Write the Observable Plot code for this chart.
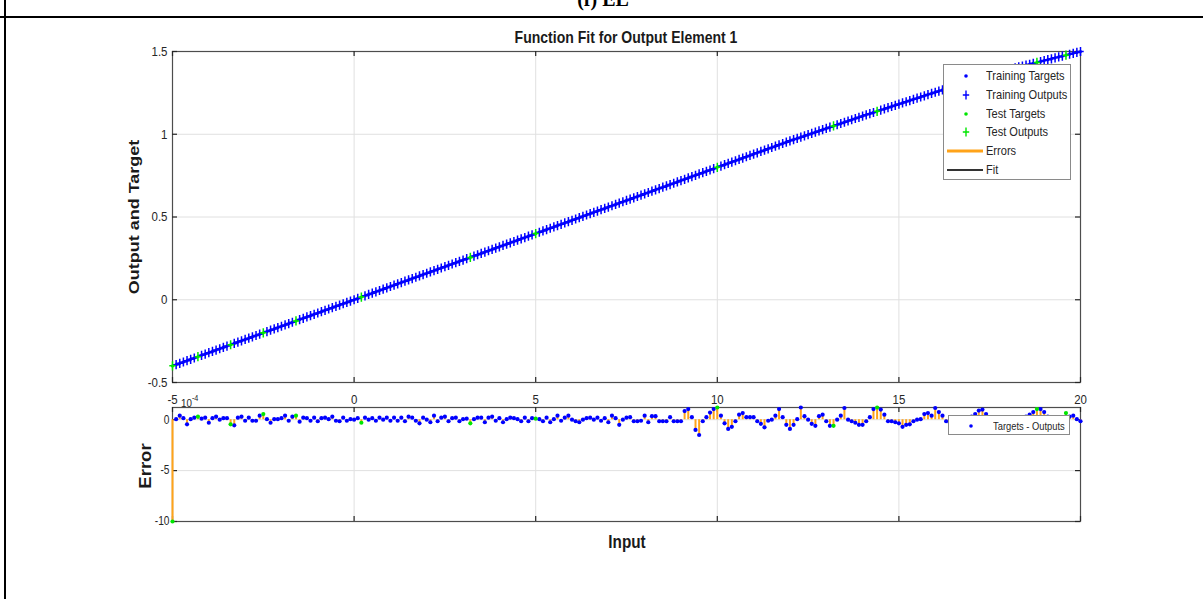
<!DOCTYPE html>
<html>
<head>
<meta charset="utf-8">
<script src="https://cdn.jsdelivr.net/npm/d3@7"></script>
<script src="https://cdn.jsdelivr.net/npm/@observablehq/plot@0.6"></script>
<style>
  html, body { margin: 0; padding: 0; background: #fff; }
  #fig { position: relative; width: 1203px; height: 599px; overflow: hidden; background: #fff;
         font-family: "Liberation Sans", Arial, sans-serif; color: #262626; }
  #fig svg { position: absolute; left: 0; }
  .t { position: absolute; white-space: nowrap; line-height: 1; }
  .legend { position: absolute; background: #fff; border: 1px solid #8a8a8a; box-sizing: border-box; }
  .legend .row { position: absolute; left: 0; height: 16px; }
  .legend .row svg { position: absolute; left: 0; top: 0; }
  .legend .lab { position: absolute; white-space: nowrap; line-height: 16px; transform-origin: 0 50%; transform: scaleX(0.85); color: #262626; }
</style>
</head>
<body>
<div id="fig"></div>
<script>
// Inputs of the fitted samples
const inputs = [
  -5, -4.9, -4.8, -4.7, -4.6, -4.5, -4.4, -4.3, -4.2, -4.1,
  -4, -3.9, -3.8, -3.7, -3.6, -3.5, -3.4, -3.3, -3.2, -3.1,
  -3, -2.9, -2.8, -2.7, -2.6, -2.5, -2.4, -2.3, -2.2, -2.1,
  -2, -1.9, -1.8, -1.7, -1.6, -1.5, -1.4, -1.3, -1.2, -1.1,
  -1, -0.9, -0.8, -0.7, -0.6, -0.5, -0.4, -0.3, -0.2, -0.1,
  0, 0.1, 0.2, 0.3, 0.4, 0.5, 0.6, 0.7, 0.8, 0.9,
  1, 1.1, 1.2, 1.3, 1.4, 1.5, 1.6, 1.7, 1.8, 1.9,
  2, 2.1, 2.2, 2.3, 2.4, 2.5, 2.6, 2.7, 2.8, 2.9,
  3, 3.1, 3.2, 3.3, 3.4, 3.5, 3.6, 3.7, 3.8, 3.9,
  4, 4.1, 4.2, 4.3, 4.4, 4.5, 4.6, 4.7, 4.8, 4.9,
  5, 5.1, 5.2, 5.3, 5.4, 5.5, 5.6, 5.7, 5.8, 5.9,
  6, 6.1, 6.2, 6.3, 6.4, 6.5, 6.6, 6.7, 6.8, 6.9,
  7, 7.1, 7.2, 7.3, 7.4, 7.5, 7.6, 7.7, 7.8, 7.9,
  8, 8.1, 8.2, 8.3, 8.4, 8.5, 8.6, 8.7, 8.8, 8.9,
  9, 9.1, 9.2, 9.3, 9.4, 9.5, 9.6, 9.7, 9.8, 9.9,
  10, 10.1, 10.2, 10.3, 10.4, 10.5, 10.6, 10.7, 10.8, 10.9,
  11, 11.1, 11.2, 11.3, 11.4, 11.5, 11.6, 11.7, 11.8, 11.9,
  12, 12.1, 12.2, 12.3, 12.4, 12.5, 12.6, 12.7, 12.8, 12.9,
  13, 13.1, 13.2, 13.3, 13.4, 13.5, 13.6, 13.7, 13.8, 13.9,
  14, 14.1, 14.2, 14.3, 14.4, 14.5, 14.6, 14.7, 14.8, 14.9,
  15, 15.1, 15.2, 15.3, 15.4, 15.5, 15.6, 15.7, 15.8, 15.9,
  16, 16.1, 16.2, 16.3, 16.4, 16.5, 16.6, 16.7, 16.8, 16.9,
  17, 17.1, 17.2, 17.3, 17.4, 17.5, 17.6, 17.7, 17.8, 17.9,
  18, 18.1, 18.2, 18.3, 18.4, 18.5, 18.6, 18.7, 18.8, 18.9,
  19, 19.1, 19.2, 19.3, 19.4, 19.5, 19.6, 19.7, 19.8, 19.9,
  20
];

// Target values for each input
const targets = [
  -0.4, -0.392, -0.384, -0.376, -0.368, -0.36, -0.352, -0.344, -0.336, -0.328,
  -0.32, -0.312, -0.304, -0.296, -0.288, -0.28, -0.272, -0.264, -0.256, -0.248,
  -0.24, -0.232, -0.224, -0.216, -0.208, -0.2, -0.192, -0.184, -0.176, -0.168,
  -0.16, -0.152, -0.144, -0.136, -0.128, -0.12, -0.112, -0.104, -0.096, -0.088,
  -0.08, -0.072, -0.064, -0.056, -0.048, -0.04, -0.032, -0.024, -0.016, -0.008,
  0, 0.008, 0.016, 0.024, 0.032, 0.04, 0.048, 0.056, 0.064, 0.072,
  0.08, 0.088, 0.096, 0.104, 0.112, 0.12, 0.128, 0.136, 0.144, 0.152,
  0.16, 0.168, 0.176, 0.184, 0.192, 0.2, 0.208, 0.216, 0.224, 0.232,
  0.24, 0.248, 0.256, 0.264, 0.272, 0.28, 0.288, 0.296, 0.304, 0.312,
  0.32, 0.328, 0.336, 0.344, 0.352, 0.36, 0.368, 0.376, 0.384, 0.392,
  0.4, 0.408, 0.416, 0.424, 0.432, 0.44, 0.448, 0.456, 0.464, 0.472,
  0.48, 0.488, 0.496, 0.504, 0.512, 0.52, 0.528, 0.536, 0.544, 0.552,
  0.56, 0.568, 0.576, 0.584, 0.592, 0.6, 0.608, 0.616, 0.624, 0.632,
  0.64, 0.648, 0.656, 0.664, 0.672, 0.68, 0.688, 0.696, 0.704, 0.712,
  0.72, 0.728, 0.736, 0.744, 0.752, 0.76, 0.768, 0.776, 0.784, 0.792,
  0.8, 0.808, 0.816, 0.824, 0.832, 0.84, 0.848, 0.856, 0.864, 0.872,
  0.88, 0.888, 0.896, 0.904, 0.912, 0.92, 0.928, 0.936, 0.944, 0.952,
  0.96, 0.9675, 0.975, 0.9825, 0.99, 0.9975, 1.005, 1.0125, 1.02, 1.0275,
  1.035, 1.0425, 1.05, 1.0575, 1.065, 1.0725, 1.08, 1.0875, 1.095, 1.1025,
  1.11, 1.1172, 1.1244, 1.1316, 1.1388, 1.146, 1.1532, 1.1604, 1.1676, 1.1748,
  1.182, 1.1892, 1.1964, 1.2036, 1.2108, 1.218, 1.2252, 1.2324, 1.2396, 1.2468,
  1.254, 1.2608, 1.2676, 1.2744, 1.2812, 1.288, 1.2948, 1.3016, 1.3084, 1.3152,
  1.322, 1.3288, 1.3356, 1.3424, 1.3492, 1.356, 1.3628, 1.3696, 1.3764, 1.3832,
  1.39, 1.3955, 1.401, 1.4065, 1.412, 1.4175, 1.423, 1.4285, 1.434, 1.4395,
  1.445, 1.4505, 1.456, 1.4615, 1.467, 1.4725, 1.478, 1.4835, 1.489, 1.4945,
  1.5
];

// Errors (targets - outputs), in units of 1e-4
const errors = [
  -10, 0.05, 0.4, 0.15, -0.45, 0.05, 0.2, 0.3, 0.1, 0.2,
  -0.3, 0.15, 0.3, 0, 0.15, 0.15, -0.45, -0.55, 0.2, 0.3,
  -0.1, 0.2, -0.1, -0.1, 0.4, 0.55, 0.05, -0.3, 0.05, 0.05,
  0.15, 0.4, -0.1, 0.3, 0.4, -0.2, 0.2, 0.15, -0.1, 0.2,
  -0.15, 0.15, 0.2, 0.05, 0.3, -0.1, -0.15, 0.2, -0.1, 0.05,
  0, 0.15, -0.3, 0.2, 0, 0.15, -0.1, 0.2, 0, 0.2,
  -0.1, 0.2, -0.1, 0.2, -0.15, 0.3, 0.2, -0.1, -0.35, 0.2,
  0, -0.25, 0.4, -0.15, 0.2, 0.3, -0.15, 0.15, 0.2, -0.15,
  0.05, 0.1, -0.35, 0.05, 0.2, 0.2, -0.25, 0.2, 0.3, -0.1,
  0.15, -0.25, 0.05, 0.2, 0.15, 0.05, -0.15, 0.2, -0.15, 0.15,
  0.1, 0.05, -0.15, 0.2, -0.25, 0.05, 0.4, -0.1, 0.2, 0.4,
  0, -0.15, -0.25, 0, 0.15, 0.2, 0, 0.2, -0.1, 0.15,
  -0.25, 0.4, 0.15, -0.5, 0, 0.2, 0.25, -0.15, -0.15, -0.1,
  0.4, -0.25, 0.35, 0.35, -0.15, -0.15, -0.15, 0.25, -0.15, -0.15,
  -0.15, 0.85, 1.05, 0.25, -1.0, -1.5, -0.15, 0.25, 0.7, 1.05,
  1.2, 0.4, -0.35, -0.9, -0.7, -0.15, 0.5, 0.65, 0.25, 0.25,
  0.25, -0.15, -0.4, -0.75, -0.1, 0, 0.4, 1.05, 0.25, -0.5,
  -0.9, -0.5, 0.05, 1.2, 0.35, 0, -0.4, -0.6, 0.35, 0.5,
  -0.15, -0.6, -0.6, 0, 0.4, 1.15, 0, -0.15, -0.3, -0.5,
  -0.5, -0.15, 0.25, 1.05, 1.2, 1.0, 0.5, -0.15, -0.15, -0.25,
  -0.35, -0.7, -0.5, -0.45, -0.15, 0, 0.05, 0.55, 0.65, 0.4,
  1.15, 0.75, 0.4, -0.15, -0.3, -0.5, -0.3, -0.1, 0.1, 0.2,
  0.3, 0.55, 0.9, 1.0, 0.55, 0.2, -0.2, -0.4, -0.6, -0.4,
  -0.1, 0.1, -0.2, -0.3, 0.1, 0.3, 0.5, 0.75, 1.05, 1.05,
  0.75, 0.3, -0.2, -0.4, -0.3, 0.1, 0.65, 0.3, 0.4, 0.05,
  -0.15
];

// Inputs held out as test samples
const testInputs = [-5, -4.3, -3.4, -2.5, -1.6, 0.2, 3.2, 5, 10, 13.2, 14.4, 18.8, 19.6];

// Axis ticks
const xTicks = [-5, 0, 5, 10, 15, 20];
const fitTicks = [-0.5, 0, 0.5, 1, 1.5];
const errTicks = [-10, -5, 0];

// Legend entries
const fitLegend = ["Training Targets", "Training Outputs", "Test Targets", "Test Outputs", "Errors", "Fit"];
const errLegend = ["Targets - Outputs"];

const blue = "#0000ff", green = "#00e600", orange = "#ffa319", fitColor = "#333333";
const axisColor = "#262626", gridColor = "#e0e0e0";
const fontFamily = "'Liberation Sans', Arial, sans-serif";

const testSet = new Set(testInputs);
const rows = inputs.map((x, i) => ({
  x,
  target: targets[i],
  error: errors[i],
  output: targets[i] - errors[i] * 1e-4,
  test: testSet.has(x)
}));
const train = rows.filter(d => !d.test);
const test = rows.filter(d => d.test);

// A plus marker a little taller than it is wide
const tallPlus = {
  draw(ctx, size) {
    const r = Math.sqrt(size / Math.PI);
    ctx.moveTo(-0.7 * r, 0); ctx.lineTo(0.7 * r, 0);
    ctx.moveTo(0, -r); ctx.lineTo(0, r);
  }
};

const W = 1203, ML = 172, MR = 123;
const frameW = W - ML - MR;

// Inward tick marks on all four sides of a box
function boxTicks(xs, ys, frameH) {
  const s = {stroke: axisColor, strokeWidth: 1.2};
  return [
    Plot.tickY(ys, {y: d => d, insetRight: frameW - 5, ...s}),
    Plot.tickY(ys, {y: d => d, insetLeft: frameW - 5, ...s}),
    Plot.tickX(xs, {x: d => d, insetTop: frameH - 5, ...s}),
    Plot.tickX(xs, {x: d => d, insetBottom: frameH - 5, ...s})
  ];
}

// Upper panel: targets, outputs and fit
const FIT_H = 412, FIT_MT = 51, FIT_MB = 30;
const fitPlot = Plot.plot({
  width: W, height: FIT_H,
  marginLeft: ML, marginRight: MR, marginTop: FIT_MT, marginBottom: FIT_MB,
  style: {background: "transparent", fontFamily, color: axisColor, overflow: "visible"},
  x: {domain: [-5, 20], label: null},
  y: {domain: [-0.5, 1.5], label: null},
  marks: [
    Plot.gridX(xTicks, {stroke: gridColor, strokeOpacity: 1}),
    Plot.gridY(fitTicks, {stroke: gridColor, strokeOpacity: 1}),
    Plot.frame({stroke: "#4d4d4d", strokeWidth: 1.2}),
    ...boxTicks(xTicks, fitTicks, FIT_H - FIT_MT - FIT_MB),
    Plot.axisX(xTicks, {anchor: "bottom", tickSize: 0, tickPadding: 12, fontSize: 13.5, tickFormat: d => String(d), label: null}),
    Plot.axisY(fitTicks, {anchor: "left", tickSize: 0, tickPadding: 5, fontSize: 13.5, tickFormat: d => String(d), label: null}),
    Plot.ruleX(rows, {x: "x", y1: "target", y2: "output", stroke: orange, strokeWidth: 2}),
    Plot.line(rows, {x: "x", y: "output", stroke: fitColor, strokeWidth: 1}),
    Plot.dot(train, {x: "x", y: "target", r: 1.6, fill: blue}),
    Plot.dot(train, {x: "x", y: "output", symbol: tallPlus, r: 4.6, fill: "none", stroke: blue, strokeWidth: 1.5}),
    Plot.dot(test, {x: "x", y: "target", r: 1.6, fill: green}),
    Plot.dot(test, {x: "x", y: "output", symbol: tallPlus, r: 4.6, fill: "none", stroke: green, strokeWidth: 1.5})
  ]
});

// Lower panel: errors
const ERR_TOP = 395, ERR_H = 140, ERR_MT = 12, ERR_MB = 14;
const errPlot = Plot.plot({
  width: W, height: ERR_H,
  marginLeft: ML, marginRight: MR, marginTop: ERR_MT, marginBottom: ERR_MB,
  style: {background: "transparent", fontFamily, color: axisColor, overflow: "visible"},
  x: {domain: [-5, 20], label: null, axis: null},
  y: {domain: [-10, 1.2], label: null},
  marks: [
    Plot.gridX(xTicks, {stroke: gridColor, strokeOpacity: 1}),
    Plot.gridY(errTicks, {stroke: gridColor, strokeOpacity: 1}),
    Plot.frame({stroke: "#4d4d4d", strokeWidth: 1.2}),
    ...boxTicks(xTicks, errTicks, ERR_H - ERR_MT - ERR_MB),
    Plot.axisY(errTicks, {anchor: "left", tickSize: 0, tickPadding: 3, fontSize: 12, tickFormat: d => String(d), label: null}),
    Plot.ruleX(rows, {x: "x", y1: 0, y2: "error", stroke: orange, strokeWidth: 2}),
    Plot.dot(train, {x: "x", y: "error", r: 2.1, fill: blue}),
    Plot.dot(test, {x: "x", y: "error", r: 2.1, fill: green})
  ]
});

// Condense axis text horizontally about its anchor point
function condense(svg, k) {
  svg.querySelectorAll("text").forEach(t => {
    const tr = t.getAttribute("transform") || "";
    let a = parseFloat(t.getAttribute("x"));
    if (!isFinite(a)) a = 0;
    t.setAttribute("transform", `${tr} translate(${a},0) scale(${k},1) translate(${-a},0)`.trim());
  });
}
condense(fitPlot, 0.85);
condense(errPlot, 0.85);

const fig = document.getElementById("fig");
errPlot.style.top = ERR_TOP + "px";
fitPlot.style.top = "0px";
fig.appendChild(errPlot);
fig.appendChild(fitPlot);

function addText(html, css) {
  const d = document.createElement("div");
  d.className = "t";
  d.innerHTML = html;
  Object.assign(d.style, css);
  fig.appendChild(d);
  return d;
}

// Page frame lines and the heading above the figure, clipped by the page top
addText("(f) EL", {left: "603px", top: "-11px", fontFamily: "'Liberation Serif', serif", fontWeight: "bold", fontSize: "20px", color: "#000", transform: "translateX(-50%)"});
const topRule = document.createElement("div");
Object.assign(topRule.style, {position: "absolute", left: "0px", top: "16px", width: "1203px", height: "2px", background: "#000"});
fig.appendChild(topRule);
const leftRule = document.createElement("div");
Object.assign(leftRule.style, {position: "absolute", left: "4px", top: "0px", width: "2px", height: "599px", background: "#000"});
fig.appendChild(leftRule);

// Titles and axis labels
addText("Function Fit for Output Element 1", {left: "626px", top: "29px", fontSize: "16.5px", fontWeight: "bold", color: "#1a1a1a", transform: "translateX(-50%) scaleX(0.85)"});
addText("Output and Target", {left: "134px", top: "217px", fontSize: "18px", fontWeight: "bold", color: "#1a1a1a", transform: "translate(-50%,-50%) rotate(-90deg) scaleY(0.85)"});
addText("Error", {left: "146px", top: "466px", fontSize: "18.5px", fontWeight: "bold", color: "#1a1a1a", transform: "translate(-50%,-50%) rotate(-90deg) scaleY(0.85)"});
addText("Input", {left: "627px", top: "533px", fontSize: "18px", fontWeight: "bold", color: "#1a1a1a", transform: "translateX(-50%) scaleX(0.85)"});
addText("10<sup style='font-size:8.5px;position:relative;top:-1px'>-4</sup>", {left: "181px", top: "395px", fontSize: "11.5px", color: axisColor, transformOrigin: "0 50%", transform: "scaleX(0.85)"});

// Legends
function swatch(kind) {
  const ns = "http://www.w3.org/2000/svg";
  const s = document.createElementNS(ns, "svg");
  s.setAttribute("width", "42"); s.setAttribute("height", "16");
  const cx = 22, cy = 8;
  if (kind === "dotB" || kind === "dotG") {
    const c = document.createElementNS(ns, "circle");
    c.setAttribute("cx", cx); c.setAttribute("cy", cy); c.setAttribute("r", 1.8);
    c.setAttribute("fill", kind === "dotB" ? blue : green);
    s.appendChild(c);
  } else if (kind === "plusB" || kind === "plusG") {
    const p = document.createElementNS(ns, "path");
    p.setAttribute("d", `M${cx - 3.2},${cy}H${cx + 3.2}M${cx},${cy - 4.6}V${cy + 4.6}`);
    p.setAttribute("stroke", kind === "plusB" ? blue : green);
    p.setAttribute("stroke-width", 1.4); p.setAttribute("fill", "none");
    s.appendChild(p);
  } else {
    const l = document.createElementNS(ns, "line");
    l.setAttribute("x1", 3); l.setAttribute("x2", 39); l.setAttribute("y1", cy); l.setAttribute("y2", cy);
    l.setAttribute("stroke", kind === "err" ? orange : fitColor);
    l.setAttribute("stroke-width", kind === "err" ? 3 : 2);
    s.appendChild(l);
  }
  return s;
}

function legend(box, entries, kinds, step, firstY, labelX, fontSize, markerX) {
  const lg = document.createElement("div");
  lg.className = "legend";
  Object.assign(lg.style, {left: box[0] + "px", top: box[1] + "px", width: box[2] + "px", height: box[3] + "px"});
  entries.forEach((name, i) => {
    const row = document.createElement("div");
    row.className = "row";
    row.style.top = (firstY + i * step - 8) + "px";
    row.style.width = "100%";
    const sw = swatch(kinds[i]);
    sw.style.left = markerX + "px";
    row.appendChild(sw);
    const lab = document.createElement("div");
    lab.className = "lab";
    lab.textContent = name;
    lab.style.left = labelX + "px";
    lab.style.fontSize = fontSize + "px";
    row.appendChild(lab);
    lg.appendChild(row);
  });
  fig.appendChild(lg);
}
legend([943, 64, 128, 116], fitLegend, ["dotB", "plusB", "dotG", "plusG", "err", "fit"], 18.8, 11, 42, 13, 0);
legend([948, 415, 122, 20], errLegend, ["dotB"], 0, 9.5, 44, 11, 0);
</script>
</body>
</html>
